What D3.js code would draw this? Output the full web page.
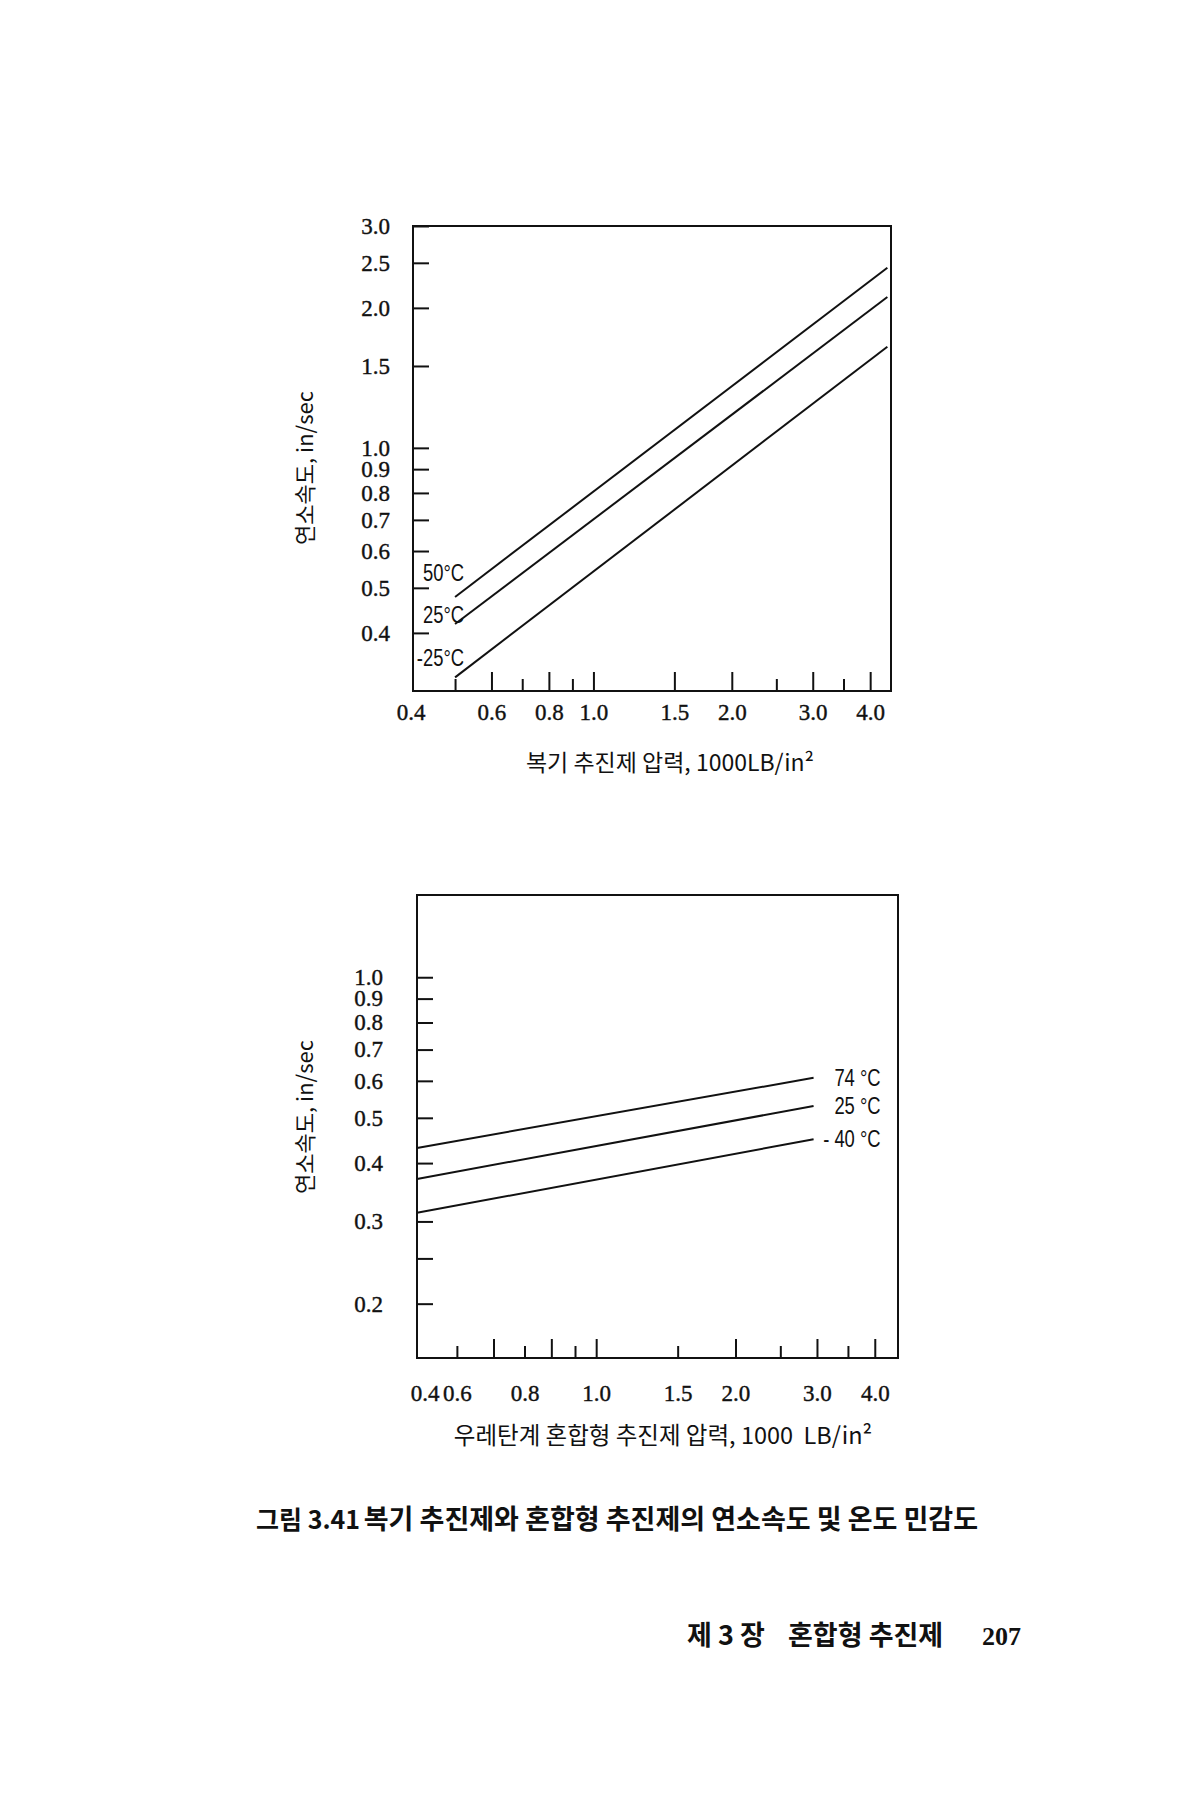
<!DOCTYPE html>
<html>
<head>
<meta charset="utf-8">
<script src="https://cdn.jsdelivr.net/npm/d3@7"></script>
<style>
  body { margin: 0; background: #fff; }
  svg { display: block; }
</style>
</head>
<body>
<script>
// upper panel: double-base propellant
const pressure1 = [0.5, 4.36];
const series1Names = ["50°C", "25°C", "-25°C"];
const series1Start = [0.478, 0.418, 0.321];
const series1End = [2.44, 2.11, 1.65];
const yLabels1 = [3.0, 2.5, 2.0, 1.5, 1.0, 0.9, 0.8, 0.7, 0.6, 0.5, 0.4];
const xMajor1 = [0.6, 0.8, 1.0, 1.5, 2.0, 3.0, 4.0];
const xMinor1 = [0.5, 0.7, 0.9, 2.5, 3.5];
const xLabelAt1 = [0.4, 0.6, 0.8, 1.0, 1.5, 2.0, 3.0, 4.0];
const xLabelText1 = ["0.4", "0.6", "0.8", "1.0", "1.5", "2.0", "3.0", "4.0"];

// lower panel: urethane composite propellant
const pressure2 = [0.41, 2.95];
const series2Names = ["74 °C", "25 °C", "- 40 °C"];
const series2Start = [0.431, 0.370, 0.313];
const series2End = [0.609, 0.530, 0.450];
const yTicks2 = [1.0, 0.9, 0.8, 0.7, 0.6, 0.5, 0.4, 0.3, 0.25, 0.2];
const yLabels2 = [1.0, 0.9, 0.8, 0.7, 0.6, 0.5, 0.4, 0.3, 0.2];
const xMajor2 = [0.6, 0.8, 1.0, 2.0, 3.0, 4.0];
const xMinor2 = [0.5, 0.7, 0.9, 1.5, 2.5, 3.5];
// labels sit where the printed figure put them (0.6 and 0.8 are shifted left)
const xLabelAt2 = [0.426, 0.5, 0.7, 1.0, 1.5, 2.0, 3.0, 4.0];
const xLabelText2 = ["0.4", "0.6", "0.8", "1.0", "1.5", "2.0", "3.0", "4.0"];

const serif = "'Liberation Serif', 'Times New Roman', serif";
const kor = "'Noto Sans CJK KR', 'Noto Sans', sans-serif";
const narrow = "'Liberation Sans', Arial, sans-serif";
const ink = "#111";

const svg = d3.select("body").append("svg")
  .attr("width", 1200)
  .attr("height", 1800);

function styleAxis(g) {
  g.select(".domain").remove();
  g.selectAll(".tick line").attr("stroke", ink).attr("stroke-width", 2);
  g.selectAll(".tick text")
    .attr("fill", ink)
    .attr("stroke", ink)
    .attr("stroke-width", 0.4)
    .attr("font-family", serif)
    .attr("font-size", 23);
}

function drawPanel(p) {
  const x = d3.scaleLog().domain(p.xDomain).range([p.left, p.right]);
  const y = d3.scaleLog().domain(p.yDomain).range([p.bottom, p.top]);
  const g = svg.append("g");

  // y axis, ticks pointing inward
  g.append("g")
    .attr("transform", `translate(${p.left},0)`)
    .call(d3.axisLeft(y).tickValues(p.yTicks).tickSize(-16).tickPadding(p.yPad)
      .tickFormat(d => p.yLabels.includes(d) ? d3.format(".1f")(d) : ""))
    .call(styleAxis);

  // x axis: major, minor ticks, then labels
  g.append("g")
    .attr("transform", `translate(0,${p.bottom})`)
    .call(d3.axisBottom(x).tickValues(p.xMajor).tickSize(-19).tickFormat(""))
    .call(styleAxis);

  g.append("g")
    .attr("transform", `translate(0,${p.bottom})`)
    .call(d3.axisBottom(x).tickValues(p.xMinor).tickSize(-12).tickFormat(""))
    .call(styleAxis);

  g.append("g")
    .attr("transform", `translate(0,${p.bottom})`)
    .call(d3.axisBottom(x).tickValues(p.xLabelAt).tickSize(0).tickPadding(p.xPad)
      .tickFormat((d, i) => p.xLabelText[i]))
    .call(styleAxis);

  // frame
  g.append("rect")
    .attr("x", p.left)
    .attr("y", p.top)
    .attr("width", p.right - p.left)
    .attr("height", p.bottom - p.top)
    .attr("fill", "none")
    .attr("stroke", ink)
    .attr("stroke-width", 2);

  const line = d3.line().x(d => x(d[0])).y(d => y(d[1]));

  p.names.forEach((name, i) => {
    const pts = [[p.pressure[0], p.start[i]], [p.pressure[1], p.end[i]]];
    g.append("path")
      .attr("d", line(pts))
      .attr("fill", "none")
      .attr("stroke", ink)
      .attr("stroke-width", 2);

    // condensed label, right-aligned
    const lab = p.labelPos(x, y, pts, i);
    g.append("text")
      .attr("transform", `translate(${lab[0]},${lab[1]}) scale(0.8,1)`)
      .attr("dy", "0.35em")
      .attr("text-anchor", "end")
      .attr("font-family", narrow)
      .attr("font-size", 23)
      .attr("fill", ink)
      .text(name);
  });

  // axis titles
  g.append("text")
    .attr("x", p.xTitlePos[0])
    .attr("y", p.xTitlePos[1])
    .attr("dy", "0.35em")
    .attr("text-anchor", "middle")
    .attr("font-family", kor)
    .attr("font-size", p.xTitleSize)
    .attr("fill", ink)
    .html(p.xTitle);

  g.append("text")
    .attr("transform", `translate(${p.yTitlePos[0]},${p.yTitlePos[1]}) rotate(-90)`)
    .attr("dy", "0.35em")
    .attr("text-anchor", "middle")
    .attr("font-family", kor)
    .attr("font-size", 22)
    .attr("fill", ink)
    .text("연소속도, in/sec");
}

const startOffsets1 = [-24, -9, -19];
drawPanel({
  left: 413, right: 891, top: 226, bottom: 691,
  xDomain: [0.405, 4.44], yDomain: [0.3, 3.0],
  yTicks: yLabels1, yLabels: yLabels1, yPad: 23,
  xMajor: xMajor1, xMinor: xMinor1,
  xLabelAt: xLabelAt1, xLabelText: xLabelText1, xPad: 13,
  pressure: pressure1, names: series1Names, start: series1Start, end: series1End,
  labelPos: (x, y, pts, i) => [x(pts[0][0]) + 9, y(pts[0][1]) + startOffsets1[i]],
  xTitle: "복기 추진제 압력, 1000LB/in²",
  xTitleSize: 23,
  xTitlePos: [670, 763],
  yTitlePos: [305, 468]
});

drawPanel({
  left: 417, right: 898, top: 895, bottom: 1358,
  xDomain: [0.41, 4.49], yDomain: [0.153, 1.5],
  yTicks: yTicks2, yLabels: yLabels2, yPad: 34,
  xMajor: xMajor2, xMinor: xMinor2,
  xLabelAt: xLabelAt2, xLabelText: xLabelText2, xPad: 27,
  pressure: pressure2, names: series2Names, start: series2Start, end: series2End,
  labelPos: (x, y, pts, i) => [x(pts[1][0]) + 67, y(pts[1][1])],
  xTitle: "우레탄계 혼합형 추진제 압력, 1000&#160;&#160;LB/in²",
  xTitleSize: 23.5,
  xTitlePos: [663, 1436],
  yTitlePos: [305, 1117]
});

// caption
svg.append("text")
  .attr("x", 256).attr("y", 1520).attr("dy", "0.35em")
  .attr("font-family", kor).attr("font-size", 25).attr("font-weight", 700)
  .attr("fill", ink)
  .text("그림 3.41");

svg.append("text")
  .attr("x", 978).attr("y", 1520).attr("dy", "0.35em")
  .attr("text-anchor", "end")
  .attr("font-family", kor).attr("font-size", 27).attr("font-weight", 700)
  .attr("fill", ink)
  .text("복기 추진제와 혼합형 추진제의 연소속도 및 온도 민감도");

// running footer
svg.append("text")
  .attr("x", 687).attr("y", 1636).attr("dy", "0.35em")
  .attr("font-family", kor).attr("font-size", 27).attr("font-weight", 700)
  .attr("fill", ink)
  .text("제 3 장");

svg.append("text")
  .attr("x", 788).attr("y", 1636).attr("dy", "0.35em")
  .attr("font-family", kor).attr("font-size", 27).attr("font-weight", 700)
  .attr("fill", ink)
  .text("혼합형 추진제");

svg.append("text")
  .attr("x", 982).attr("y", 1636).attr("dy", "0.35em")
  .attr("font-family", serif).attr("font-size", 26).attr("font-weight", 700)
  .attr("fill", ink)
  .text("207");
</script>
</body>
</html>
